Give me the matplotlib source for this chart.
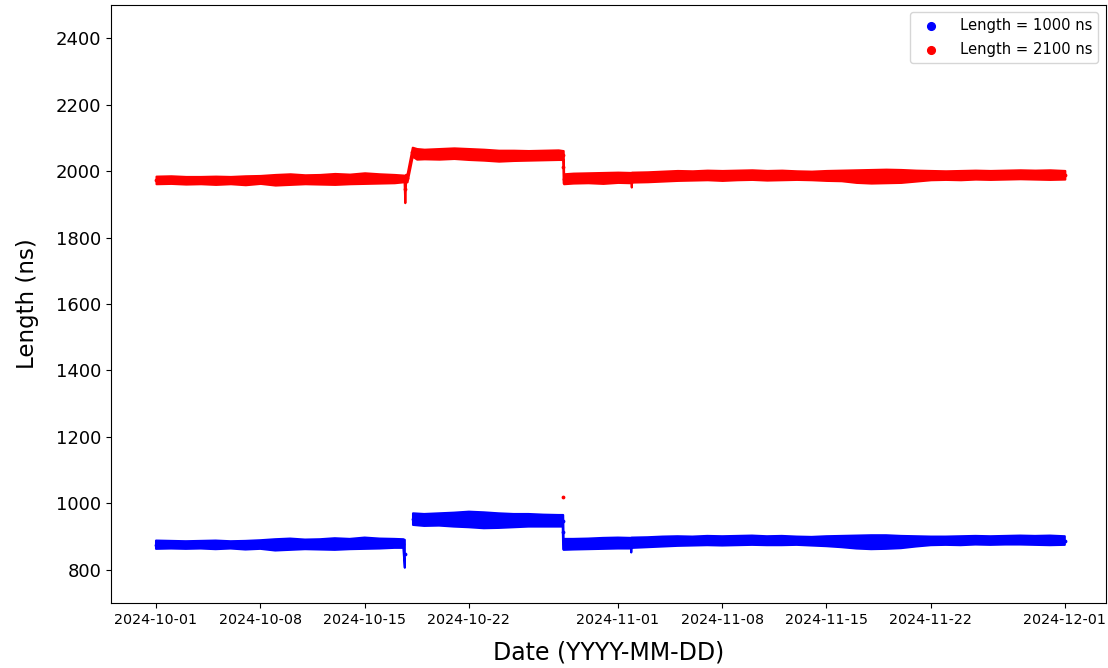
import numpy as np
import pandas as pd
import matplotlib
matplotlib.use("Agg")
import matplotlib.pyplot as plt
import matplotlib.dates as mdates

start = pd.Timestamp("2024-10-01")

# red series (Length = 2100 ns): days since 2024-10-01, band low / high (ns)
red_days = [0, 1, 2, 3, 4, 5, 6, 7, 8, 9, 10, 11, 12, 13, 14, 15, 16, 16.65, 16.7, 16.75,
            16.85, 17.2, 17.5, 18, 19, 20, 21, 22, 23, 24, 25, 26, 27, 27.3, 27.33, 27.36,
            28, 29, 30, 31, 31.88, 31.9, 31.92, 32, 33, 34, 35, 36, 37, 38, 39, 40, 41, 42,
            43, 44, 45, 46, 47, 48, 49, 50, 51, 52, 53, 54, 55, 56, 57, 58, 59, 60, 61]
red_low = [1962, 1963, 1961, 1962, 1960, 1962, 1959, 1963, 1958, 1960, 1962, 1961, 1960, 1962,
           1963, 1964, 1965, 1968, 1905, 1966, 1968, 2045, 2036, 2037, 2036, 2038, 2035, 2033,
           2030, 2032, 2033, 2034, 2035, 2035, 1965, 1962, 1964, 1965, 1963, 1966, 1965, 1952,
           1966, 1967, 1968, 1970, 1972, 1973, 1974, 1972, 1974, 1975, 1973, 1974, 1975, 1974,
           1972, 1971, 1966, 1964, 1965, 1966, 1970, 1974, 1975, 1974, 1976, 1975, 1976, 1977,
           1976, 1975, 1976]
red_high = [1985, 1986, 1984, 1984, 1985, 1984, 1986, 1987, 1990, 1992, 1989, 1990, 1993, 1991,
            1995, 1992, 1990, 1988, 1986, 1990, 1992, 2072, 2068, 2066, 2068, 2070, 2068, 2066,
            2063, 2063, 2062, 2063, 2064, 2062, 2062, 1992, 1994, 1995, 1996, 1997, 1996, 1996,
            1997, 1997, 1998, 2000, 2002, 2001, 2003, 2002, 2003, 2004, 2002, 2003, 2001, 2000,
            2002, 2003, 2004, 2005, 2006, 2005, 2003, 2002, 2001, 2002, 2003, 2002, 2003, 2004,
            2003, 2004, 2002]

# blue series (Length = 1000 ns)
blue_days = [0, 1, 2, 3, 4, 5, 6, 7, 8, 9, 10, 11, 12, 13, 14, 15, 16, 16.6, 16.7, 16.72,
             17.25, 18, 19, 20, 21, 22, 23, 24, 25, 26, 27, 27.3, 27.33, 27.36,
             28, 29, 30, 31, 31.88, 31.9, 31.92, 32, 33, 34, 35, 36, 37, 38, 39, 40, 41, 42,
             43, 44, 45, 46, 47, 48, 49, 50, 51, 52, 53, 54, 55, 56, 57, 58, 59, 60, 61]
blue_low = [863, 864, 863, 864, 862, 864, 861, 863, 858, 860, 862, 861, 860, 862,
            863, 864, 866, 866, 806, np.nan, 935, 932, 933, 930, 928, 925, 926, 928, 930, 930,
            930, 930, 862, 860, 861, 862, 863, 864, 864, 852, 865, 866, 868, 870, 872, 873,
            874, 873, 874, 875, 874, 874, 875, 873, 871, 868, 864, 862, 863, 865, 870, 874,
            875, 874, 876, 875, 876, 876, 875, 874, 875]
blue_high = [888, 887, 886, 887, 888, 886, 887, 889, 892, 894, 891, 892, 895, 893,
             897, 894, 893, 892, 890, np.nan, 970, 968, 970, 972, 975, 973, 970, 968, 968, 966,
             965, 965, 965, 893, 893, 894, 896, 897, 896, 896, 897, 897, 898, 900, 901, 900,
             902, 901, 902, 903, 901, 902, 900, 899, 901, 902, 903, 904, 904, 902, 901, 900,
             900, 901, 902, 901, 902, 903, 902, 903, 901]

# isolated red sample seen at the bottom band
red_out_day = [27.3]
red_out_val = [1020]

red_t = start + pd.to_timedelta(red_days, unit="D")
blue_t = start + pd.to_timedelta(blue_days, unit="D")
out_t = start + pd.to_timedelta(red_out_day, unit="D")
red_mid = (np.array(red_low) + np.array(red_high)) / 2
blue_mid = (np.array(blue_low) + np.array(blue_high)) / 2

fig = plt.figure(figsize=(11.08, 6.68), dpi=100)
ax = fig.add_axes([0.1002, 0.0973, 0.8978, 0.8952])

ax.fill_between(blue_t, blue_low, blue_high, color="blue", lw=1.5, edgecolor="blue")
ax.fill_between(red_t, red_low, red_high, color="red", lw=1.5, edgecolor="red")
ax.scatter(blue_t, blue_mid, s=3, color="blue", label="Length = 1000 ns")
ax.scatter(red_t, red_mid, s=3, color="red", label="Length = 2100 ns")
ax.scatter(out_t, red_out_val, s=3, color="red")

ax.set_xlim(start - pd.Timedelta(days=3.02), start + pd.Timedelta(days=63.75))
ax.set_ylim(700, 2500)
ax.set_yticks(np.arange(800, 2401, 200))
ax.tick_params(axis="y", labelsize=13)
ax.tick_params(axis="x", labelsize=10.3)
ax.xaxis.set_major_locator(mdates.DayLocator(bymonthday=[1, 8, 15, 22]))
ax.xaxis.set_major_formatter(mdates.DateFormatter("%Y-%m-%d"))
ax.set_xlabel("Date (YYYY-MM-DD)", fontsize=17, labelpad=10)
ax.set_ylabel("Length (ns)", fontsize=16.5, labelpad=12)
ax.legend(loc="upper right", fontsize=10.6, markerscale=3.2, labelspacing=0.6,
          borderaxespad=0.5, handletextpad=1.0)

fig.savefig("out.png", dpi=100)
